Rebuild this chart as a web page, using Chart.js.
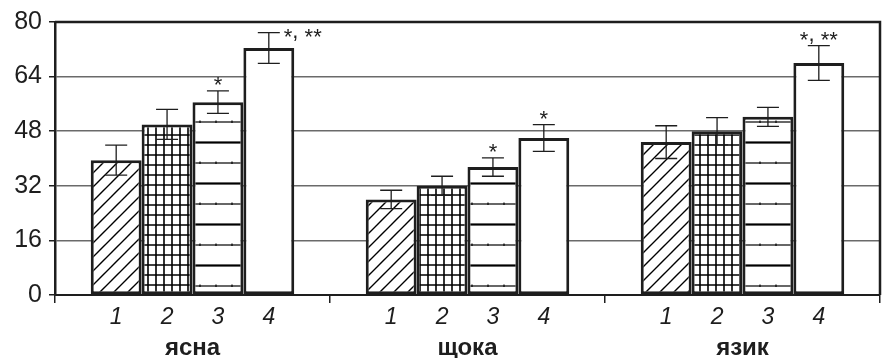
<!DOCTYPE html>
<html>
<head>
<meta charset="utf-8">
<script src="https://cdn.jsdelivr.net/npm/chart.js@4/dist/chart.umd.min.js"></script>
<style>
  html, body { margin: 0; padding: 0; background: #fff; }
  #wrap { width: 882px; height: 358px; }
</style>
</head>
<body>
<div id="wrap"><canvas id="grafico" width="882" height="358"></canvas></div>
<script>
// Dados
const categorias = ['ясна', 'щока', 'язик'];
const series = ['1', '2', '3', '4'];
const valores1 = [39.5, 28, 44.8];
const valores2 = [50, 32, 48];
const valores3 = [56.5, 37.5, 52.2];
const valores4 = [72.4, 46, 68];
const erros1 = [4.4, 2.7, 4.8];
const erros2 = [4.4, 2.8, 4];
const erros3 = [3.3, 2.7, 2.8];
const erros4 = [4.5, 3.9, 5.1];
const marcas1 = ['', '', ''];
const marcas2 = ['', '', ''];
const marcas3 = ['*', '*', ''];
const marcas4 = ['*, **', '*', '*, **'];
const yTicks = [0, 16, 32, 48, 64, 80];

const FONTE = '"Liberation Sans", Arial, sans-serif';
const TINTA = '#1e1e1e';

// Padrões de preenchimento (hachuras)
function criarPadrao(tipo) {
  const c = document.createElement('canvas');
  const ctx = c.getContext('2d');
  ctx.strokeStyle = TINTA;
  if (tipo === 'diagonal') {
    c.width = 14; c.height = 14;
    ctx.fillStyle = '#fff'; ctx.fillRect(0, 0, 14, 14);
    ctx.lineWidth = 1.4;
    ctx.beginPath();
    ctx.moveTo(-2, 16); ctx.lineTo(16, -2);
    ctx.moveTo(-2, 2); ctx.lineTo(2, -2);
    ctx.moveTo(12, 16); ctx.lineTo(16, 12);
    ctx.stroke();
  } else if (tipo === 'grade') {
    c.width = 8; c.height = 10;
    ctx.fillStyle = '#fff'; ctx.fillRect(0, 0, 8, 10);
    ctx.lineWidth = 1.6;
    ctx.beginPath();
    ctx.moveTo(4, 0); ctx.lineTo(4, 10);
    ctx.moveTo(0, 5); ctx.lineTo(8, 5);
    ctx.stroke();
  } else if (tipo === 'horizontal') {
    c.width = 16; c.height = 41;
    ctx.fillStyle = '#fff'; ctx.fillRect(0, 0, 16, 41);
    ctx.lineWidth = 2.2;
    ctx.beginPath(); ctx.moveTo(0, 19.5); ctx.lineTo(16, 19.5); ctx.stroke();
    ctx.lineWidth = 1.2;
    ctx.beginPath(); ctx.moveTo(0, 40); ctx.lineTo(16, 40); ctx.stroke();
    // pequenos traços sobre a linha fina
    ctx.beginPath(); ctx.moveTo(8, 38.5); ctx.lineTo(8, 41); ctx.stroke();
  } else {
    return '#fff';
  }
  return ctx.createPattern(c, 'repeat');
}

const dadosSeries = [valores1, valores2, valores3, valores4];
const errosSeries = [erros1, erros2, erros3, erros4];
const marcasSeries = [marcas1, marcas2, marcas3, marcas4];
const padroes = ['diagonal', 'grade', 'horizontal', 'branco'];

// Escreve a marca caractere a caractere: asteriscos centrados em cy, vírgula logo abaixo
function escreverMarca(ctx, texto, xIni, cy, meioAst) {
  let x = xIni;
  for (const ch of texto) {
    const w = ctx.measureText(ch).width;
    if (ch === '*') ctx.fillText(ch, x, cy + meioAst);
    else if (ch === ',') ctx.fillText(ch, x, cy + 5);
    x += w;
  }
}

// Plugin: moldura, barras de erro, asteriscos e rótulos do eixo X
const pluginDesenho = {
  id: 'desenhoExtra',
  afterDatasetsDraw(chart) {
    const ctx = chart.ctx;
    const area = chart.chartArea;
    const y = chart.scales.y;
    ctx.save();

    // moldura direita e superior
    ctx.strokeStyle = TINTA;
    ctx.lineWidth = 2.5;
    ctx.beginPath();
    ctx.moveTo(area.left, area.top);
    ctx.lineTo(area.right, area.top);
    ctx.lineTo(area.right, area.bottom);
    ctx.stroke();

    ctx.font = '22px ' + FONTE;
    const mAst = ctx.measureText('*');
    const meioAst = (mAst.actualBoundingBoxAscent - mAst.actualBoundingBoxDescent) / 2;

    dadosSeries.forEach((serie, i) => {
      const meta = chart.getDatasetMeta(i);
      meta.data.forEach((barra, j) => {
        const x = barra.x;
        const v = serie[j];
        const e = errosSeries[i][j];
        const yTop = y.getPixelForValue(v + e);
        const yBot = y.getPixelForValue(v - e);
        // barra de erro
        ctx.strokeStyle = TINTA;
        ctx.lineWidth = 1.3;
        ctx.beginPath();
        ctx.moveTo(x, yTop); ctx.lineTo(x, yBot);
        ctx.moveTo(x - 11, yTop); ctx.lineTo(x + 11, yTop);
        ctx.moveTo(x - 11, yBot); ctx.lineTo(x + 11, yBot);
        ctx.stroke();

        // asteriscos
        const marca = marcasSeries[i][j];
        if (marca) {
          ctx.fillStyle = TINTA;
          ctx.font = '22px ' + FONTE;
          ctx.textBaseline = 'alphabetic';
          ctx.textAlign = 'left';
          const largura = ctx.measureText(marca).width;
          if (yTop - 20 < area.top) {
            escreverMarca(ctx, marca, x + 15, yTop, meioAst);
          } else {
            escreverMarca(ctx, marca, x - largura / 2, yTop - 10, meioAst);
          }
        }

        // número da série abaixo da barra
        ctx.fillStyle = TINTA;
        ctx.font = 'italic 23px ' + FONTE;
        ctx.textAlign = 'center';
        ctx.textBaseline = 'middle';
        ctx.fillText(series[i], x, area.bottom + 23);
      });
    });

    // nomes das categorias
    const xs = chart.scales.x;
    ctx.font = 'bold 24px ' + FONTE;
    ctx.textAlign = 'center';
    ctx.textBaseline = 'middle';
    categorias.forEach((cat, j) => {
      ctx.fillText(cat, xs.getPixelForValue(j), area.bottom + 53);
    });
    ctx.restore();
  }
};

const ctx = document.getElementById('grafico').getContext('2d');
new Chart(ctx, {
  type: 'bar',
  data: {
    labels: categorias,
    datasets: dadosSeries.map((serie, i) => ({
      label: series[i],
      data: serie,
      backgroundColor: criarPadrao(padroes[i]),
      borderColor: TINTA,
      borderWidth: 3,
      borderSkipped: false,
      categoryPercentage: 0.74,
      barPercentage: 1
    }))
  },
  options: {
    responsive: false,
    animation: false,
    layout: { padding: { top: 20, right: 2, left: 0, bottom: 0 } },
    plugins: {
      legend: { display: false },
      tooltip: { enabled: false }
    },
    scales: {
      x: {
        grid: {
          display: true,
          drawOnChartArea: false,
          offset: true,
          color: TINTA,
          lineWidth: 1.5,
          tickLength: 8
        },
        border: { color: TINTA, width: 2 },
        ticks: { display: false },
        afterFit(scale) { scale.height = 63; }
      },
      y: {
        min: 0,
        max: 80,
        afterBuildTicks(scale) { scale.ticks = yTicks.map(v => ({ value: v })); },
        grid: {
          color: '#6a6a6a',
          lineWidth: 1.5,
          tickLength: 6,
          tickColor: TINTA
        },
        border: { color: TINTA, width: 2.5 },
        ticks: {
          color: TINTA,
          padding: 7,
          font: { family: FONTE, size: 25 }
        },
        afterFit(scale) { scale.width = 55; }
      }
    }
  },
  plugins: [pluginDesenho]
});
</script>
</body>
</html>
